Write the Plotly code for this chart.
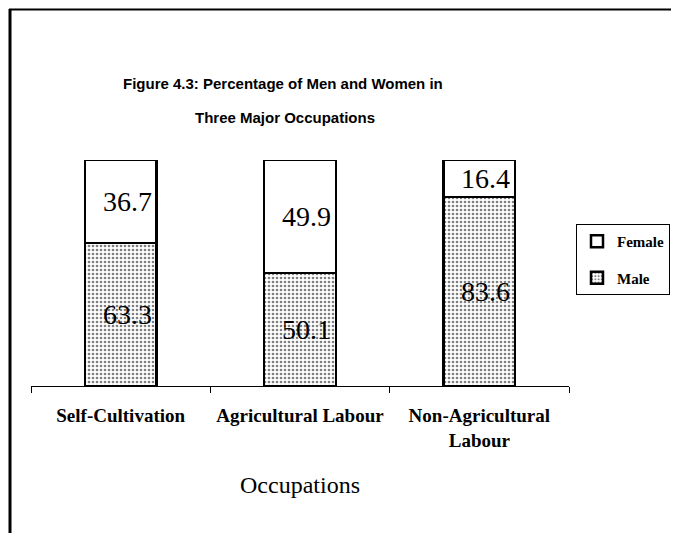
import plotly.graph_objects as go

categories = ["Self-Cultivation", "Agricultural Labour", "Non-Agricultural<br>Labour"]
male = [63.3, 50.1, 83.6]
female = [36.7, 49.9, 16.4]
series_names = ["Male", "Female"]
title_lines = ["Figure 4.3: Percentage of Men and Women in", "Three Major Occupations"]

W, H = 679, 533
L, R, T, B = 23, 118, 152, 155
BAR_W = 0.4
plot_w = W - L - R
plot_h = H - T - B
cat_px = plot_w / len(categories)
half_bar_px = BAR_W * cat_px / 2


def px_x(px):
    return (px - L) / plot_w


def px_y(py):
    return (H - B - py) / plot_h


fig = go.Figure()
fig.add_trace(go.Bar(
    x=categories, y=male, name=f"<b>{series_names[0]}</b>", width=BAR_W,
    legendgroup="m", legendrank=2,
    marker=dict(color="white", line=dict(color="black", width=2.5),
                pattern=dict(shape=".", fgcolor="black", bgcolor="white", size=4, solidity=0.35)),
))
fig.add_trace(go.Bar(
    x=categories, y=female, name=f"<b>{series_names[1]}</b>", width=BAR_W,
    legendgroup="f", legendrank=1,
    marker=dict(color="white", line=dict(color="black", width=2.5)),
))

lab_font = dict(family="Liberation Serif, Times New Roman, serif", size=28, color="black")
for c, m, f in zip(categories, male, female):
    fig.add_annotation(x=c, y=m / 2, text=f"{m}", showarrow=False, xanchor="right",
                       yanchor="middle", xshift=half_bar_px - 3, font=lab_font)
    fig.add_annotation(x=c, y=m + f / 2, text=f"{f}", showarrow=False, xanchor="right",
                       yanchor="middle", xshift=half_bar_px - 3, font=lab_font)

ttl_font = dict(family="Liberation Sans, Arial, sans-serif", size=15, color="black")
fig.add_annotation(xref="paper", yref="paper", x=px_x(275), y=px_y(75),
                   text=f"<b>{title_lines[0]}</b>", showarrow=False, yanchor="middle", font=ttl_font)
fig.add_annotation(xref="paper", yref="paper", x=px_x(277), y=px_y(110),
                   text=f"<b>{title_lines[1]}</b>", showarrow=False, yanchor="middle", font=ttl_font)

# frame around the chart
fig.add_shape(type="line", xref="paper", yref="paper",
              x0=px_x(2), x1=px_x(2), y0=px_y(1), y1=px_y(H),
              line=dict(color="black", width=3))
fig.add_shape(type="line", xref="paper", yref="paper",
              x0=px_x(1), x1=px_x(W), y0=px_y(1.5), y1=px_y(1.5),
              line=dict(color="black", width=2))

fig.update_layout(
    width=W, height=H,
    margin=dict(l=L, r=R, t=T, b=B, autoexpand=False),
    barmode="stack",
    plot_bgcolor="white", paper_bgcolor="white",
    showlegend=True,
    legend=dict(x=px_x(568), y=px_y(216), xanchor="left", yanchor="top",
                traceorder="grouped", tracegroupgap=14,
                bordercolor="black", borderwidth=1, bgcolor="white",
                font=dict(family="Liberation Serif, Times New Roman, serif", size=15, color="black")),
    xaxis=dict(showline=True, linecolor="black", linewidth=1.2, ticks="outside", tickson="boundaries",
               ticklen=6, tickcolor="black", ticklabelstandoff=12, tickangle=0, automargin=False,
               tickfont=dict(family="Liberation Serif, Times New Roman, serif", size=19, color="black"),
               title=dict(text="Occupations", standoff=26,
                          font=dict(family="Liberation Serif, Times New Roman, serif", size=24, color="black"))),
    yaxis=dict(range=[0, 100], visible=False),
)
fig.update_xaxes(tickprefix="<b>", ticksuffix="</b>")

fig.write_html("out.html")
